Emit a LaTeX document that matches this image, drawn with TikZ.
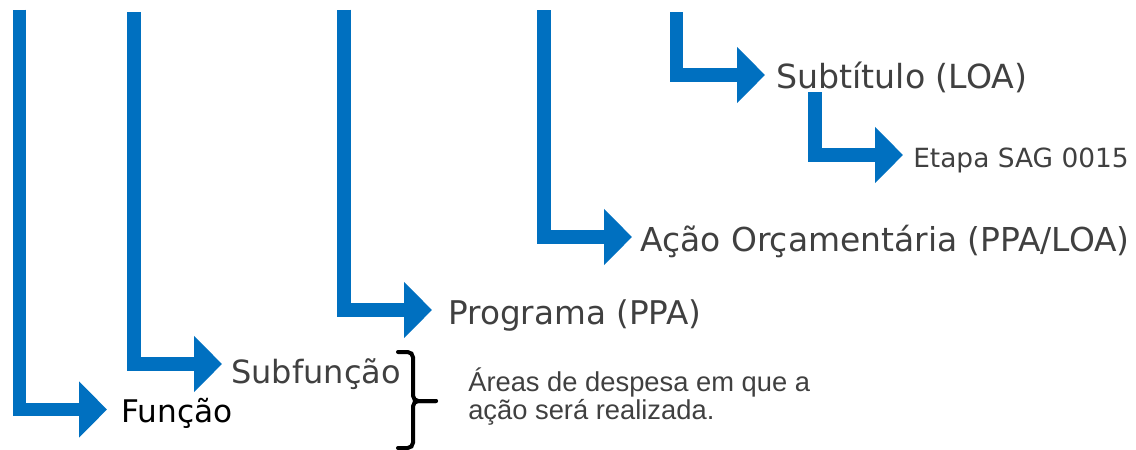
\documentclass[tikz,border=0pt]{standalone}
\usepackage{fontspec}
\setmainfont{DejaVu Sans}
\newfontfamily\arialfont{Liberation Sans}
\usetikzlibrary{arrows.meta}
\definecolor{azulseta}{HTML}{0070C0}
\definecolor{cinzatexto}{HTML}{404040}
\tikzset{
  seta/.style={azulseta, line width=10.1pt, line join=miter,
    -{Triangle[length=21pt, width=41pt]}},
  rotulo/.style={anchor=base west, inner sep=0pt, text=cinzatexto,
    font=\fontsize{24.7pt}{28pt}\selectfont},
  chave/.style={line width=3pt, rounded corners=4pt, line cap=round}
}
\begin{document}
\begin{tikzpicture}[x=0.75pt, y=-0.75pt]
    \useasboundingbox (0,0) rectangle (1136,450);
    % pontos das setas
    \coordinate (funcao-top) at (19.5,9.5);
    \coordinate (funcao-tip) at (107,409.5);
    \coordinate (subfuncao-top) at (134,12);
    \coordinate (subfuncao-tip) at (222,364);
    \coordinate (programa-top) at (344,9.5);
    \coordinate (programa-tip) at (432,310);
    \coordinate (acao-top) at (544,10);
    \coordinate (acao-tip) at (632,237);
    \coordinate (subtitulo-top) at (676.5,12);
    \coordinate (subtitulo-tip) at (765,75);
    \coordinate (etapa-top) at (815,92);
    \coordinate (etapa-tip) at (903,155);
    % textos
    \node[rotulo, text=black, font=\fontsize{23.4pt}{26pt}\selectfont] (funcao) at (121,422) {Função};
    \node[rotulo, font=\fontsize{24pt}{28pt}\selectfont] (subfuncao) at (231,383) {Subfunção};
    \node[rotulo, font=\fontsize{24.5pt}{28pt}\selectfont] (programa) at (448,324) {Programa (PPA)};
    \node[rotulo] (acao) at (640,251) {Ação Orçamentária (PPA/LOA)};
    \node[rotulo, font=\fontsize{24.9pt}{28pt}\selectfont] (subtitulo) at (776,88) {Subtítulo (LOA)};
    \node[rotulo, font=\fontsize{19.8pt}{24pt}\selectfont] (etapa) at (913,167) {Etapa SAG 0015};
    \node[rotulo, align=left, font=\arialfont\fontsize{20.5pt}{21pt}\selectfont] (areas) at (468,419)
        {Áreas de despesa em que a\\ação será realizada.};
    % setas
    \draw[seta] (funcao-top) |- (funcao-tip);
    \draw[seta] (subfuncao-top) |- (subfuncao-tip);
    \draw[seta] (programa-top) |- (programa-tip);
    \draw[seta] (acao-top) |- (acao-tip);
    \draw[seta] (subtitulo-top) |- (subtitulo-tip);
    \draw[seta] (etapa-top) |- (etapa-tip);
    % chave
    \draw[chave] (398,352) -- (413,352) -- (413,401) -- (436,401);
    \draw[chave] (436,401) -- (413,401) -- (413,448) -- (398,448);
\end{tikzpicture}
\end{document}
